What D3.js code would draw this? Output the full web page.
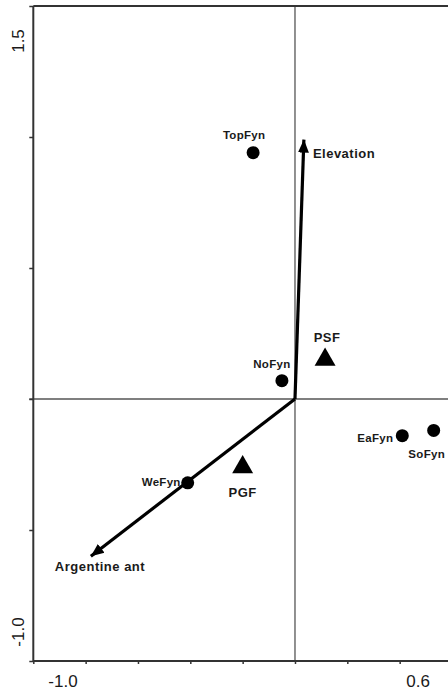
<!DOCTYPE html>
<html>
<head>
<meta charset="utf-8">
<script src="https://cdn.jsdelivr.net/npm/d3@7/dist/d3.min.js"></script>
<style>
  html, body { margin: 0; padding: 0; background: #fff; }
  svg { display: block; }
  text { font-family: "Liberation Sans", Arial, sans-serif; fill: #1a1a1a; }
</style>
</head>
<body>
<svg id="chart" width="448" height="690"></svg>
<script>
// Ordination biplot: sites, sampling groups and environmental vectors
const siteNames = ["TopFyn", "NoFyn", "EaFyn", "SoFyn", "WeFyn"];
const siteX = [-0.16, -0.05, 0.41, 0.53, -0.41];
const siteY = [0.94, 0.07, -0.14, -0.12, -0.32];

const groupNames = ["PSF", "PGF"];
const groupX = [0.115, -0.20];
const groupY = [0.15, -0.26];

const vectorNames = ["Elevation", "Argentine ant"];
const vectorX = [0.034, -0.78];
const vectorY = [0.99, -0.60];

const xDomain = [-1.0, 0.6];
const yDomain = [-1.0, 1.5];
const xTickStep = 0.2;
const yTickStep = 0.5;
const xEndLabels = ["-1.0", "0.6"];
const yEndLabels = ["1.5", "-1.0"];

const svg = d3.select("#chart");
const x = d3.scaleLinear().domain(xDomain).range([33.3, 452]);
const y = d3.scaleLinear().domain(yDomain).range([661, 6]);

// zero reference lines
svg.append("line")
  .attr("x1", x(0)).attr("x2", x(0))
  .attr("y1", y(yDomain[1])).attr("y2", y(yDomain[0]))
  .attr("stroke", "#555").attr("stroke-width", 1.3);
svg.append("line")
  .attr("x1", x(xDomain[0]) - 4).attr("x2", 448)
  .attr("y1", y(0)).attr("y2", y(0))
  .attr("stroke", "#555").attr("stroke-width", 1.3);

// axes with small outward ticks and end labels only
const xAxis = d3.axisBottom(x)
  .tickValues(d3.range(xDomain[0], xDomain[1] + 1e-9, xTickStep))
  .tickSize(3).tickFormat("");
const gx = svg.append("g").attr("transform", `translate(0,${y(yDomain[0])})`).call(xAxis);
gx.select(".domain").remove();
gx.selectAll(".tick line").attr("stroke", "#333").attr("stroke-width", 1.5);
svg.append("line")
  .attr("x1", x(xDomain[0])).attr("x2", 448)
  .attr("y1", y(yDomain[0])).attr("y2", y(yDomain[0]))
  .attr("stroke", "#333").attr("stroke-width", 2);

const yAxis = d3.axisLeft(y)
  .tickValues(d3.range(yDomain[0], yDomain[1] + 1e-9, yTickStep))
  .tickSize(4).tickFormat("");
const gy = svg.append("g").attr("transform", `translate(${x(xDomain[0])},0)`).call(yAxis);
gy.select(".domain").remove();
gy.selectAll(".tick line").attr("stroke", "#333").attr("stroke-width", 1.5);
svg.append("line")
  .attr("x1", x(xDomain[0])).attr("x2", x(xDomain[0]))
  .attr("y1", y(yDomain[1])).attr("y2", y(yDomain[0]))
  .attr("stroke", "#333").attr("stroke-width", 2);
svg.append("line")
  .attr("x1", x(xDomain[0])).attr("x2", 448)
  .attr("y1", y(yDomain[1])).attr("y2", y(yDomain[1]))
  .attr("stroke", "#333").attr("stroke-width", 2);

// end labels of the axes
const tickFont = 17;
svg.append("text").text(xEndLabels[0])
  .attr("x", x(xDomain[0]) + 15).attr("y", 687)
  .attr("font-size", tickFont);
svg.append("text").text(xEndLabels[1])
  .attr("x", x(xDomain[1]) - 22).attr("y", 687)
  .attr("text-anchor", "end").attr("font-size", tickFont);
svg.append("text").text(yEndLabels[0])
  .attr("transform", `translate(24,${y(yDomain[1]) + 35}) rotate(-90)`)
  .attr("text-anchor", "middle").attr("font-size", tickFont);
svg.append("text").text(yEndLabels[1])
  .attr("transform", `translate(24,${y(yDomain[0]) - 29}) rotate(-90)`)
  .attr("text-anchor", "middle").attr("font-size", tickFont);

// environmental vectors drawn from the origin
svg.append("defs").append("marker")
  .attr("id", "arrow")
  .attr("markerUnits", "userSpaceOnUse")
  .attr("markerWidth", 14).attr("markerHeight", 14)
  .attr("viewBox", "0 -7 14 14")
  .attr("refX", 13).attr("refY", 0)
  .attr("orient", "auto")
  .append("path").attr("d", "M0,-5.5L13,0L0,5.5Z").attr("fill", "#000");

const vectors = vectorNames.map((n, i) => ({ name: n, x: vectorX[i], y: vectorY[i] }));
svg.selectAll(".vec").data(vectors).enter().append("line")
  .attr("class", "vec")
  .attr("x1", x(0)).attr("y1", y(0))
  .attr("x2", d => x(d.x)).attr("y2", d => y(d.y))
  .attr("stroke", "#000").attr("stroke-width", 3.2)
  .attr("marker-end", "url(#arrow)");

const labelFont = 13;
const vectorLabelPlace = {
  "Elevation": { dx: 9, dy: 18, anchor: "start" },
  "Argentine ant": { dx: -36, dy: 15, anchor: "start" }
};
svg.selectAll(".vlab").data(vectors).enter().append("text")
  .attr("class", "vlab")
  .attr("x", d => x(d.x) + vectorLabelPlace[d.name].dx)
  .attr("y", d => y(d.y) + vectorLabelPlace[d.name].dy)
  .attr("text-anchor", d => vectorLabelPlace[d.name].anchor)
  .attr("font-size", labelFont).attr("font-weight", "bold")
  .attr("letter-spacing", 0.5)
  .text(d => d.name);

// sampling groups as triangles
const groups = groupNames.map((n, i) => ({ name: n, x: groupX[i], y: groupY[i] }));
const tri = d3.symbol().type(d3.symbolTriangle).size(190);
svg.selectAll(".grp").data(groups).enter().append("path")
  .attr("class", "grp")
  .attr("transform", d => `translate(${x(d.x)},${y(d.y)})`)
  .attr("d", tri).attr("fill", "#000");

const groupLabelPlace = {
  "PSF": { dx: 2, dy: -18 },
  "PGF": { dx: 0, dy: 30 }
};
svg.selectAll(".glab").data(groups).enter().append("text")
  .attr("class", "glab")
  .attr("x", d => x(d.x) + groupLabelPlace[d.name].dx)
  .attr("y", d => y(d.y) + groupLabelPlace[d.name].dy)
  .attr("text-anchor", "middle")
  .attr("font-size", labelFont).attr("font-weight", "bold")
  .attr("letter-spacing", 0.5)
  .text(d => d.name);

// sites as filled circles
const sites = siteNames.map((n, i) => ({ name: n, x: siteX[i], y: siteY[i] }));
svg.selectAll(".site").data(sites).enter().append("circle")
  .attr("class", "site")
  .attr("cx", d => x(d.x)).attr("cy", d => y(d.y))
  .attr("r", 6.5).attr("fill", "#000");

const siteLabelPlace = {
  "TopFyn": { dx: -9, dy: -14, anchor: "middle" },
  "NoFyn": { dx: -10, dy: -13, anchor: "middle" },
  "EaFyn": { dx: -9, dy: 6, anchor: "end" },
  "SoFyn": { dx: -7, dy: 28, anchor: "middle" },
  "WeFyn": { dx: -7, dy: 3, anchor: "end" }
};
svg.selectAll(".slab").data(sites).enter().append("text")
  .attr("class", "slab")
  .attr("x", d => x(d.x) + siteLabelPlace[d.name].dx)
  .attr("y", d => y(d.y) + siteLabelPlace[d.name].dy)
  .attr("text-anchor", d => siteLabelPlace[d.name].anchor)
  .attr("font-size", 11.5).attr("font-weight", "bold")
  .attr("letter-spacing", 0.3)
  .text(d => d.name);
</script>
</body>
</html>
